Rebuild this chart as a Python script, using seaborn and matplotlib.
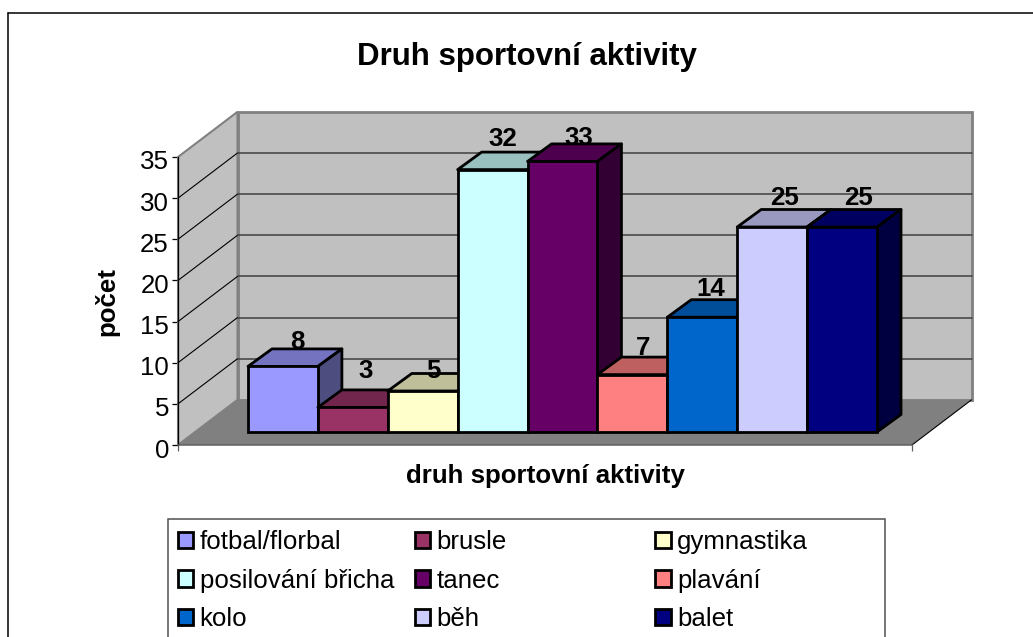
import matplotlib
matplotlib.use("Agg")
import matplotlib.pyplot as plt
from matplotlib.lines import Line2D
from matplotlib.patches import Polygon, Rectangle
from matplotlib.transforms import ScaledTranslation
import matplotlib.colors as mc
import numpy as np
import seaborn as sns

# ---- data ----
categories = ["fotbal/florbal", "brusle", "gymnastika", "posilování břicha", "tanec",
              "plavání", "kolo", "běh", "balet"]
values = [8, 3, 5, 32, 33, 7, 14, 25, 25]
y_ticks = [0, 5, 10, 15, 20, 25, 30, 35]
title = "Druh sportovní aktivity"
x_label = "druh sportovní aktivity"
y_label = "počet"
colors = ["#9999FF", "#993366", "#FFFFCC", "#CCFFFF", "#660066",
          "#FF8080", "#0066CC", "#CCCCFF", "#000080"]

# ---- layout helpers (pixel geometry) ----
W, H = 1033, 637
def fx(px): return px / W
def fy(py): return 1 - py / H
def ax_rect(x0, x1, ytop, ybot):
    return [fx(x0), fy(ybot), (x1 - x0) / W, (ybot - ytop) / H]

sns.set_theme(style="white")
plt.rcParams["font.family"] = ["Liberation Sans", "DejaVu Sans"]
fig = plt.figure(figsize=(W / 100, H / 100), dpi=100, facecolor="white")

# ---- outer chart frame ----
fig.add_artist(Line2D([fx(8), fx(8)], [fy(13), 0], color="black", lw=1.1))
fig.add_artist(Line2D([fx(8), 1], [fy(13), fy(13)], color="black", lw=1.1))

# ---- axes box with the walls ----
PX_UNIT = 287 / 35
wall = fig.add_axes(ax_rect(178, 912, 157, 445))
wall.set_xlim(0, 1)
wall.set_ylim(0, 35)
wall.patch.set_alpha(0)
ddx = 59.5 / 734
ddy = 45 / PX_UNIT
wall.add_patch(Polygon([(0, 0), (ddx, ddy), (ddx, 35 + ddy), (0, 35)], closed=True,
                       fc="#C0C0C0", ec="#808080", lw=1.5, clip_on=False, zorder=1))
wall.add_patch(Rectangle((ddx, ddy), 1, 35, fc="#C0C0C0", ec="#808080", lw=2,
                         clip_on=False, zorder=1))
wall.add_patch(Polygon([(0, 0), (1, 0), (1 + ddx, ddy), (ddx, ddy)], closed=True,
                       fc="#808080", ec="none", clip_on=False, zorder=2))
wall.plot([1, 1 + ddx], [0, ddy], color="black", lw=0.8, clip_on=False, zorder=3)
for t in y_ticks[1:-1]:
    wall.plot([0, ddx], [t, t + ddy], color="black", lw=0.8, clip_on=False, zorder=3)
    wall.plot([ddx, 1 + ddx], [t + ddy, t + ddy], color="#404040", lw=1.1, clip_on=False, zorder=3)
wall.set_yticks(y_ticks)
wall.set_xticks([0, 1])
wall.set_xticklabels(["", ""])
wall.tick_params(axis="y", left=True, length=4.5, width=0.9, color="black",
                 labelsize=18.6, pad=2, labelcolor="black")
wall.tick_params(axis="x", bottom=True, length=4, width=0.9, color="#606060")
shift = ScaledTranslation(0, -3 / 100, fig.dpi_scale_trans)
for lab in wall.get_yticklabels():
    lab.set_transform(lab.get_transform() + shift)
for s in ["top", "right"]:
    wall.spines[s].set_visible(False)
wall.spines["left"].set_color("black")
wall.spines["left"].set_linewidth(0.9)
wall.spines["bottom"].set_color("#606060")
wall.spines["bottom"].set_linewidth(1.1)
wall.spines["left"].set_zorder(5)
wall.spines["bottom"].set_zorder(5)

# ---- bars ----
BAR_PX = (877 - 248) / 9
EDGE = 2.0
ax = fig.add_axes(ax_rect(248, 877, 432 - 287, 432))
ax.patch.set_alpha(0)
sns.barplot(x=categories, y=values, hue=categories, palette=colors, legend=False,
            order=categories, hue_order=categories, width=1, dodge=False,
            edgecolor="black", linewidth=EDGE, saturation=1, ax=ax)
ax.set_xlim(-0.5, 8.5)
ax.set_ylim(0, 35)
ax.axis("off")
dx = 24 / BAR_PX
dy = 17.5 / PX_UNIT

def shade(c, f):
    r, g, b = mc.to_rgb(c)
    return (r * f, g * f, b * f)

label_dx = [14, 13, 11, 10, 16, 11, 8, 12, 16]
label_gap = [-5, 7, -9, 1, -6, -3, -1, 0, 0]
for i, (bar, v, c) in enumerate(zip(ax.patches, values, colors)):
    bar.set_zorder(11 + 2 * i)
    bar.set_clip_on(False)
    x0, x1 = bar.get_x(), bar.get_x() + bar.get_width()
    ax.add_patch(Polygon([(x0, v), (x0 + dx, v + dy), (x1 + dx, v + dy), (x1, v)], closed=True,
                         fc=shade(c, 0.75), ec="black", lw=EDGE, joinstyle="round",
                         clip_on=False, zorder=10 + 2 * i))
    ax.add_patch(Polygon([(x1, 0), (x1 + dx, dy), (x1 + dx, v + dy), (x1, v)], closed=True,
                         fc=shade(c, 0.5), ec="black", lw=EDGE, joinstyle="round",
                         clip_on=False, zorder=10 + 2 * i))
    ax.annotate(str(v), xy=(i, v + dy), xytext=(label_dx[i] * 0.72, label_gap[i] * 0.72),
                textcoords="offset points", ha="center", va="bottom", fontsize=18.6,
                fontweight="bold", color="black", zorder=40, annotation_clip=False)

# ---- texts ----
fig.text(fx(527), fy(56.5), title, ha="center", va="center", fontsize=22.5, fontweight="bold", color="black")
fig.text(fx(545.5), fy(476), x_label, ha="center", va="center", fontsize=18.6, fontweight="bold", color="black")
fig.text(fx(106.5), fy(301), y_label, ha="center", va="center", rotation=90, fontsize=18.6,
         fontweight="bold", color="black")

# ---- legend ----
fig.add_artist(Rectangle((fx(168), fy(640)), (885 - 168) / W, (640 - 519) / H, transform=fig.transFigure,
                         fc="white", ec="#505050", lw=1.1))
col_x = [167.5, 404.5, 645]
for k, cx in enumerate(col_x):
    idx = [k, k + 3, k + 6]
    handles = [Rectangle((0, 0), 1, 1, fc=colors[j], ec="black", lw=EDGE) for j in idx]
    fig.legend(handles, [categories[j] for j in idx], loc="upper left",
               bbox_to_anchor=(fx(cx), fy(520)), borderaxespad=0, borderpad=0.4, frameon=False,
               fontsize=18.6, ncol=1, handlelength=0.6, handleheight=0.6,
               handletextpad=0.24, labelspacing=0.56, labelcolor="black")

fig.savefig("out.png", dpi=100, facecolor="white")
